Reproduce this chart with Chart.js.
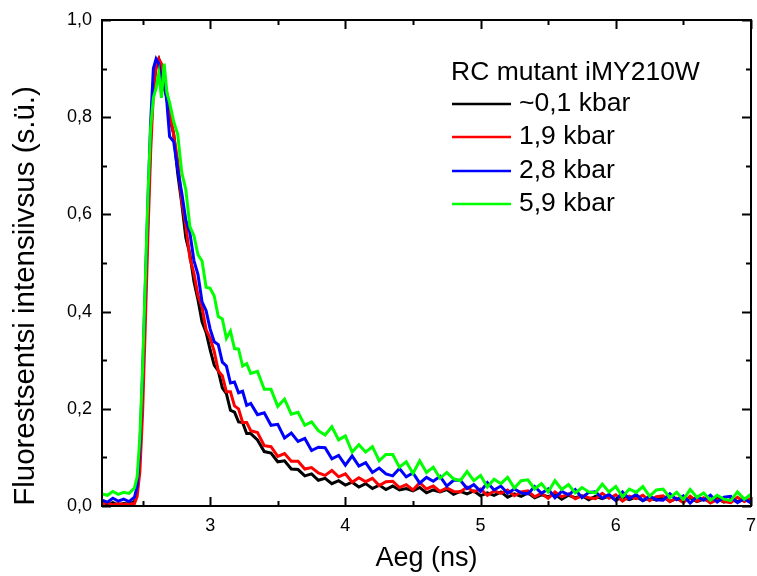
<!DOCTYPE html>
<html>
<head>
<meta charset="utf-8">
<script src="https://cdn.jsdelivr.net/npm/chart.js@4"></script>
<style>
  body { margin: 0; background: #fff; }
  #graafik { display: block; }
</style>
</head>
<body>
<canvas id="graafik" width="757" height="576"></canvas>
<script>
// Fluorestsentsi kustumine - RC mutant iMY210W
// aeg (ns)
var tempos = [
  2.20, 2.24, 2.28, 2.32, 2.36, 2.40, 2.44,
  2.46, 2.48, 2.50, 2.52, 2.54, 2.56, 2.58, 2.60, 2.62, 2.64, 2.66, 2.68, 2.70,
  2.73, 2.76, 2.79, 2.82, 2.85, 2.88, 2.91, 2.94, 2.97, 3.00,
  3.03, 3.06, 3.09, 3.12, 3.15, 3.18, 3.21, 3.24, 3.27, 3.30,
  3.35, 3.40, 3.45, 3.50, 3.55, 3.60, 3.65, 3.70, 3.75, 3.80,
  3.85, 3.90, 3.95, 4.00, 4.05, 4.10, 4.15, 4.20, 4.25, 4.30,
  4.35, 4.40, 4.45, 4.50, 4.55, 4.60, 4.65, 4.70, 4.75, 4.80,
  4.85, 4.90, 4.95, 5.00, 5.05, 5.10, 5.15, 5.20, 5.25, 5.30,
  5.35, 5.40, 5.45, 5.50, 5.55, 5.60, 5.65, 5.70, 5.75, 5.80,
  5.85, 5.90, 5.95, 6.00, 6.05, 6.10, 6.15, 6.20, 6.25, 6.30,
  6.35, 6.40, 6.45, 6.50, 6.55, 6.60, 6.65, 6.70, 6.75, 6.80,
  6.85, 6.90, 6.95, 7.00
];

// ~0,1 kbar
var must = [
  0.006, 0.003, 0.007, 0.002, 0.005, 0.004, 0.009,
  0.03, 0.10, 0.24, 0.42, 0.60, 0.76, 0.87, 0.91, 0.92, 0.90, 0.86, 0.84, 0.80,
  0.766, 0.684, 0.622, 0.552, 0.518, 0.462, 0.424, 0.379, 0.357, 0.321,
  0.290, 0.278, 0.243, 0.231, 0.197, 0.193, 0.173, 0.172, 0.149, 0.149,
  0.136, 0.112, 0.109, 0.091, 0.093, 0.076, 0.075, 0.062, 0.066, 0.053,
  0.057, 0.046, 0.052, 0.043, 0.049, 0.039, 0.046, 0.036, 0.043, 0.034,
  0.041, 0.033, 0.036, 0.031, 0.038, 0.027, 0.033, 0.029, 0.034, 0.024,
  0.030, 0.025, 0.031, 0.021, 0.027, 0.022, 0.029, 0.018, 0.025, 0.020,
  0.027, 0.017, 0.023, 0.019, 0.024, 0.014, 0.022, 0.017, 0.021, 0.013,
  0.020, 0.015, 0.021, 0.012, 0.018, 0.013, 0.019, 0.011, 0.017, 0.012,
  0.018, 0.010, 0.015, 0.012, 0.017, 0.009, 0.014, 0.010, 0.016, 0.008,
  0.013, 0.009, 0.014, 0.008
];

// 1,9 kbar
var punane = [
  0.004, 0.007, 0.002, 0.005, 0.003, 0.004, 0.005,
  0.02, 0.07, 0.19, 0.37, 0.56, 0.73, 0.85, 0.90, 0.92, 0.91, 0.88, 0.85, 0.81,
  0.764, 0.710, 0.627, 0.577, 0.510, 0.479, 0.433, 0.409, 0.363, 0.345,
  0.318, 0.278, 0.268, 0.235, 0.235, 0.206, 0.200, 0.172, 0.172, 0.155,
  0.151, 0.124, 0.122, 0.102, 0.108, 0.092, 0.092, 0.076, 0.079, 0.068,
  0.063, 0.073, 0.060, 0.066, 0.049, 0.058, 0.050, 0.057, 0.042, 0.050,
  0.051, 0.038, 0.044, 0.033, 0.048, 0.035, 0.041, 0.030, 0.037, 0.030,
  0.029, 0.039, 0.029, 0.035, 0.022, 0.031, 0.026, 0.033, 0.021, 0.029,
  0.031, 0.019, 0.026, 0.016, 0.029, 0.019, 0.025, 0.015, 0.021, 0.017,
  0.015, 0.026, 0.016, 0.023, 0.010, 0.020, 0.015, 0.022, 0.011, 0.019,
  0.021, 0.009, 0.016, 0.007, 0.020, 0.010, 0.017, 0.006, 0.013, 0.009,
  0.007, 0.018, 0.009, 0.016
];

// 2,8 kbar
var sinine = [
  0.012, 0.008, 0.016, 0.010, 0.014, 0.009, 0.018,
  0.04, 0.12, 0.27, 0.45, 0.63, 0.79, 0.90, 0.92, 0.91, 0.86, 0.88, 0.83, 0.76,
  0.750, 0.692, 0.644, 0.588, 0.562, 0.505, 0.476, 0.420, 0.402, 0.364,
  0.338, 0.332, 0.296, 0.288, 0.253, 0.255, 0.233, 0.236, 0.207, 0.211,
  0.188, 0.192, 0.166, 0.168, 0.140, 0.150, 0.133, 0.139, 0.114, 0.121,
  0.120, 0.097, 0.104, 0.084, 0.103, 0.082, 0.089, 0.069, 0.078, 0.066,
  0.062, 0.077, 0.060, 0.068, 0.047, 0.059, 0.051, 0.061, 0.041, 0.053,
  0.053, 0.036, 0.044, 0.030, 0.048, 0.033, 0.041, 0.026, 0.035, 0.027,
  0.025, 0.040, 0.026, 0.035, 0.017, 0.030, 0.023, 0.034, 0.017, 0.028,
  0.029, 0.016, 0.024, 0.011, 0.029, 0.015, 0.024, 0.011, 0.020, 0.013,
  0.012, 0.025, 0.013, 0.021, 0.006, 0.019, 0.012, 0.022, 0.008, 0.018,
  0.020, 0.007, 0.015, 0.006
];

// 5,9 kbar
var roheline = [
  0.025, 0.022, 0.030, 0.024, 0.028, 0.026, 0.037,
  0.06, 0.14, 0.28, 0.46, 0.64, 0.78, 0.84, 0.86, 0.89, 0.84, 0.91, 0.85, 0.83,
  0.791, 0.765, 0.686, 0.651, 0.575, 0.556, 0.517, 0.504, 0.450, 0.448,
  0.432, 0.390, 0.385, 0.345, 0.360, 0.324, 0.323, 0.288, 0.293, 0.273,
  0.277, 0.240, 0.240, 0.205, 0.220, 0.189, 0.193, 0.166, 0.173, 0.155,
  0.146, 0.163, 0.136, 0.144, 0.111, 0.126, 0.111, 0.122, 0.093, 0.106,
  0.106, 0.080, 0.091, 0.067, 0.093, 0.069, 0.080, 0.057, 0.069, 0.056,
  0.052, 0.071, 0.052, 0.063, 0.039, 0.055, 0.046, 0.059, 0.037, 0.052,
  0.054, 0.035, 0.046, 0.029, 0.052, 0.034, 0.044, 0.027, 0.038, 0.029,
  0.027, 0.045, 0.029, 0.040, 0.019, 0.035, 0.028, 0.040, 0.020, 0.033,
  0.035, 0.017, 0.028, 0.013, 0.034, 0.018, 0.027, 0.012, 0.022, 0.014,
  0.011, 0.029, 0.014, 0.024
];

var seeriaNimed = ["~0,1 kbar", "1,9 kbar", "2,8 kbar", "5,9 kbar"];
var seeriaVarvid = ["#000000", "#ff0000", "#0000ff", "#00ff00"];
var legendiPealkiri = "RC mutant iMY210W";

var xSildid = [3, 4, 5, 6, 7];
var xVahe = [2.5, 3.5, 4.5, 5.5, 6.5];
var ySildid = [0, 0.2, 0.4, 0.6, 0.8, 1.0];
var yVahe = [0.1, 0.3, 0.5, 0.7, 0.9];

var FONT = "'Liberation Sans', Arial, sans-serif";

function punktid(vaartused) {
  return tempos.map(function (t, i) { return { x: t, y: vaartused[i] }; });
}

// raam, sissepoole tikid, legend ja y-telje pealkiri
var raamPlugin = {
  id: "raam",
  afterDatasetsDraw: function (chart) {
    var ctx = chart.ctx;
    var a = chart.chartArea;
    var xs = chart.scales.x;
    var ys = chart.scales.y;
    ctx.save();
    ctx.strokeStyle = "#000";
    ctx.lineWidth = 2;
    ctx.strokeRect(a.left, a.top, a.right - a.left, a.bottom - a.top);

    function xTikk(v, pikk) {
      var px = Math.round(xs.getPixelForValue(v)) + 0.5;
      ctx.beginPath();
      ctx.moveTo(px, a.bottom); ctx.lineTo(px, a.bottom - pikk);
      ctx.moveTo(px, a.top); ctx.lineTo(px, a.top + pikk);
      ctx.stroke();
    }
    function yTikk(v, pikk) {
      var py = Math.round(ys.getPixelForValue(v)) + 0.5;
      ctx.beginPath();
      ctx.moveTo(a.left, py); ctx.lineTo(a.left + pikk, py);
      ctx.moveTo(a.right, py); ctx.lineTo(a.right - pikk, py);
      ctx.stroke();
    }
    xSildid.forEach(function (v) { xTikk(v, 9); });
    xVahe.forEach(function (v) { xTikk(v, 5); });
    ySildid.forEach(function (v) { yTikk(v, 9); });
    yVahe.forEach(function (v) { yTikk(v, 5); });

    // legend
    ctx.fillStyle = "#000";
    ctx.font = "26.5px " + FONT;
    ctx.textAlign = "left";
    ctx.textBaseline = "middle";
    ctx.fillText(legendiPealkiri, 451, 73);
    var ridaY = [104, 137, 171, 204];
    seeriaNimed.forEach(function (nimi, i) {
      ctx.strokeStyle = seeriaVarvid[i];
      ctx.lineWidth = 2.5;
      ctx.beginPath();
      ctx.moveTo(452, ridaY[i]);
      ctx.lineTo(511, ridaY[i]);
      ctx.stroke();
      ctx.fillStyle = "#000";
      ctx.fillText(nimi, 519, ridaY[i]);
    });

    // y-telje pealkiri
    ctx.translate(26, 296);
    ctx.rotate(-Math.PI / 2);
    ctx.textAlign = "center";
    ctx.font = "29.5px " + FONT;
    ctx.fillText("Fluorestsentsi intensiivsus (s.ü.)", 0, 0);
    ctx.restore();
  }
};

var ctx = document.getElementById("graafik").getContext("2d");

var graafik = new Chart(ctx, {
  type: "line",
  data: {
    datasets: [
      { label: seeriaNimed[0], data: punktid(must), borderColor: seeriaVarvid[0], order: 3 },
      { label: seeriaNimed[1], data: punktid(punane), borderColor: seeriaVarvid[1], order: 2 },
      { label: seeriaNimed[2], data: punktid(sinine), borderColor: seeriaVarvid[2], order: 1 },
      { label: seeriaNimed[3], data: punktid(roheline), borderColor: seeriaVarvid[3], order: 0 },
    ],
  },
  options: {
    responsive: false,
    animation: false,
    layout: { padding: { top: 20, right: 3, left: 0, bottom: 0 } },
    elements: {
      point: { radius: 0 },
      line: { borderWidth: 3, tension: 0, fill: false },
    },
    plugins: {
      legend: { display: false },
      tooltip: { enabled: false },
    },
    scales: {
      x: {
        type: "linear",
        min: 2.2,
        max: 7,
        grid: { display: false },
        border: { display: false },
        afterBuildTicks: function (s) {
          s.ticks = xSildid.map(function (v) { return { value: v }; });
        },
        afterFit: function (s) { s.height = 70; },
        ticks: {
          color: "#000",
          padding: 1,
          maxRotation: 0,
          font: { family: FONT, size: 18 },
          callback: function (v) { return String(v); },
        },
        title: {
          display: true,
          text: "Aeg (ns)",
          color: "#000",
          font: { family: FONT, size: 27 },
          padding: { top: 0, bottom: 1 },
        },
      },
      y: {
        min: 0,
        max: 1,
        grid: { display: false },
        border: { display: false },
        afterBuildTicks: function (s) {
          s.ticks = ySildid.map(function (v) { return { value: v }; });
        },
        afterFit: function (s) { s.width = 102; },
        ticks: {
          color: "#000",
          padding: 2,
          font: { family: FONT, size: 18 },
          callback: function (v) { return v.toFixed(1).replace(".", ","); },
        },
      },
    },
  },
  plugins: [raamPlugin],
});
</script>
</body>
</html>
